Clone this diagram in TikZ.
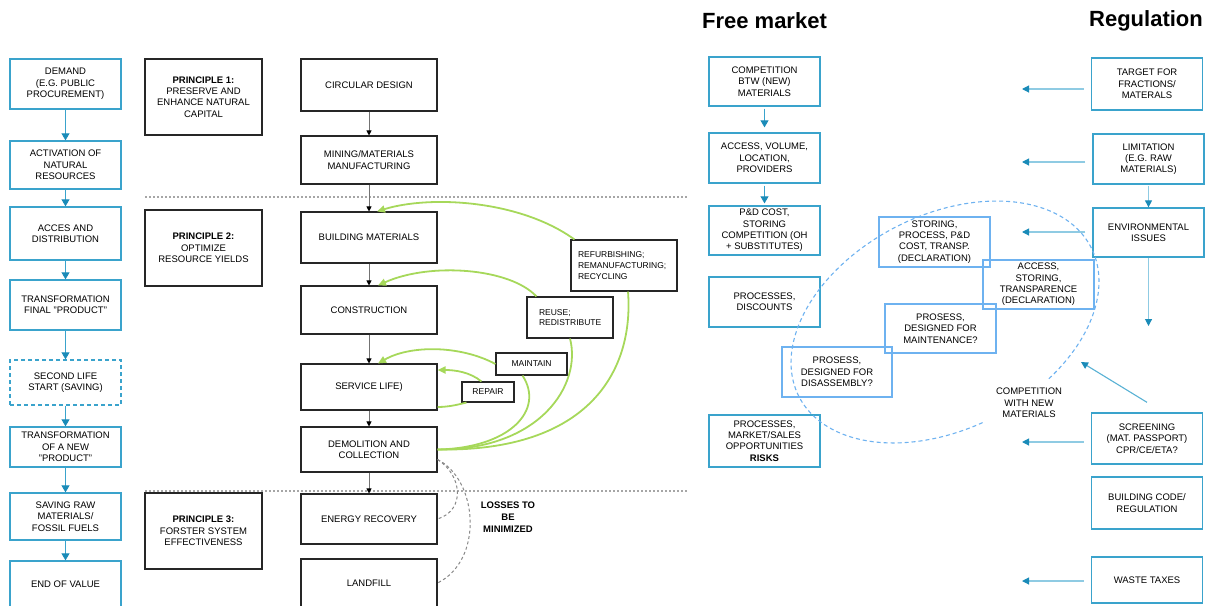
\documentclass[tikz,border=0pt]{standalone}
\usepackage{fontspec}
\setmainfont{Liberation Sans}
\usetikzlibrary{arrows.meta}
\definecolor{myblue}{RGB}{58,163,204}
\definecolor{mydarkblue}{RGB}{26,139,184}
\definecolor{mypaleblue}{RGB}{143,203,227}
\definecolor{mylightblue}{RGB}{110,178,240}
\definecolor{mygreen}{RGB}{166,216,90}
\definecolor{mygray}{RGB}{136,136,136}

\begin{document}
\begin{tikzpicture}[
  x=1pt,
  y=-1pt,
  font=\fontsize{9.5}{11.3}\selectfont,
  mybluebox/.style={
    draw=myblue,
    line width=1.3pt,
    align=center,
    inner sep=1pt,
    minimum width=111pt,
    minimum height=#1pt
    },
  mylightbox/.style={
    draw=mylightblue,
    line width=1.2pt,
    align=center,
    inner sep=1pt,
    minimum width=111pt,
    minimum height=#1pt
    },
  myprinciple/.style={
    draw=black!85,
    line width=1.3pt,
    align=center,
    minimum width=117pt,
    minimum height=76pt
    },
  mystage/.style={
    draw=black!85,
    line width=1.1pt,
    align=center,
    inner sep=1pt,
    minimum width=136pt,
    minimum height=#1pt
    },
  mylabel/.style 2 args={
    draw=black!85,
    line width=1.1pt,
    font=\fontsize{8.5}{10.8}\selectfont,
    inner sep=1pt,
    minimum width=#1pt,
    minimum height=#2pt
    },
  myarrow/.style={
    draw=myblue,
    line width=0.9pt,
    -{Triangle[length=7pt,width=8pt,color=mydarkblue]}
    },
  mystagearrow/.style={
    draw=black!55,
    line width=0.8pt,
    -{Triangle[length=5pt,width=5pt,color=black]}
    },
  mygreenline/.style={
    draw=mygreen,
    line width=1.8pt
    },
  mygreenarrow/.style={
    mygreenline,
    -{Triangle[length=8pt,width=7pt]}
    },
  mylossline/.style={
    draw=mygray,
    line width=1pt,
    dash pattern=on 3pt off 2.5pt
    },
  myregarrow/.style={
    draw=mypaleblue,
    line width=1.1pt,
    -{Triangle[length=7pt,width=7pt,color=mydarkblue]}
    },
  myseparator/.style={
    draw=black!35,
    line width=1.2pt,
    dash pattern=on 2pt off 2pt
    }
]
\useasboundingbox (0,0) rectangle (1206,605);

\node[mybluebox=50] (demand) at (65.5,84) {DEMAND\\(E.G. PUBLIC\\PROCUREMENT)};
\node[mybluebox=48] (activation) at (65.5,165) {ACTIVATION OF\\NATURAL\\RESOURCES};
\node[mybluebox=53] (acces) at (65.5,233.5) {ACCES AND\\DISTRIBUTION};
\node[mybluebox=50] (transfinal) at (65.5,305) {TRANSFORMATION\\FINAL "PRODUCT"};
\node[mybluebox=45, dash pattern=on 4pt off 3pt] (secondlife) at (65.5,382.5) {SECOND LIFE\\START (SAVING)};
\node[mybluebox=40] (transnew) at (65.5,447) {TRANSFORMATION\\OF A NEW\\"PRODUCT"};
\node[mybluebox=47] (saving) at (65.5,516.5) {SAVING RAW\\MATERIALS/\\FOSSIL FUELS};
\node[mybluebox=46] (endvalue) at (65.5,584) {END OF VALUE};
\foreach \a/\b in {demand/activation, activation/acces, acces/transfinal, transfinal/secondlife, secondlife/transnew, transnew/saving, saving/endvalue}
  \draw[myarrow] (\a) -- (\b);

\node[myprinciple] (principle1) at (203.5,97) {\textbf{PRINCIPLE 1:}\\PRESERVE AND\\ENHANCE NATURAL\\CAPITAL};
\node[myprinciple] (principle2) at (203.5,248) {\textbf{PRINCIPLE 2:}\\OPTIMIZE\\RESOURCE YIELDS};
\node[myprinciple] (principle3) at (203.5,531) {\textbf{PRINCIPLE 3:}\\FORSTER SYSTEM\\EFFECTIVENESS};

\draw[myseparator] (145,197) -- (688,197);
\draw[myseparator] (145,491) -- (688,491);

\node[mystage=52] (circular) at (369,85) {CIRCULAR DESIGN};
\node[mystage=48] (mining) at (369,160) {MINING/MATERIALS\\MANUFACTURING};
\node[mystage=51] (building) at (369,237.5) {BUILDING MATERIALS};
\node[mystage=48] (construction) at (369,310) {CONSTRUCTION};
\node[mystage=46] (service) at (369,387) {SERVICE LIFE)};
\node[mystage=45] (demolition) at (369,449.5) {DEMOLITION AND\\COLLECTION};
\node[mystage=50] (energy) at (369,519) {ENERGY RECOVERY};
\node[mystage=48] (landfill) at (369,583) {LANDFILL};
\foreach \a/\b in {circular/mining, mining/building, building/construction, construction/service, service/demolition, demolition/energy}
  \draw[mystagearrow] (\a) -- (\b);

\node[mylabel={106}{51}, text width=92pt, align=left] (refurb) at (624,265.5) {REFURBISHING;\\REMANUFACTURING;\\RECYCLING};
\node[mylabel={86}{41}, text width=62pt, align=left] (reuse) at (570,317.5) {REUSE;\\REDISTRIBUTE};
\node[mylabel={71}{22}] (maintain) at (531.5,364) {MAINTAIN};
\node[mylabel={52}{20}] (repair) at (488,392) {REPAIR};

\draw[mygreenline] (demolition.east) .. controls (590,452) and (634,370) .. ([xshift=4pt]refurb.south);
\draw[mygreenarrow] ([xshift=4pt]refurb.north west) .. controls (520,200) and (430,195) .. ([xshift=8pt]building.north);
\draw[mygreenline] (demolition.east) .. controls (540,450) and (582,385) .. (reuse.south);
\draw[mygreenarrow] ([xshift=10pt]reuse.north west) .. controls (510,268) and (430,262) .. ([xshift=9pt]construction.north);
\draw[mygreenline] (demolition.east) .. controls (510,448) and (545,410) .. ([xshift=-9pt]maintain.south);
\draw[mygreenarrow] (maintain.west) .. controls (460,345) and (410,345) .. ([xshift=9pt]service.north);
\draw[mygreenline] ([yshift=-20pt]service.east) .. controls (450,407) and (460,404) .. ([xshift=5pt]repair.south west);
\draw[mygreenarrow] ([xshift=20pt]repair.north west) .. controls (470,372) and (455,370) .. ([yshift=17pt]service.east);

\draw[mylossline] ([yshift=-10pt]demolition.east) .. controls (462,475) and (466,510) .. (energy.east);
\draw[mylossline] ([yshift=-10pt]demolition.east) .. controls (478,480) and (484,560) .. (landfill.east);
\node[font=\bfseries\fontsize{9.5}{11.7}\selectfont, align=center] (losses) at (508,517) {LOSSES TO\\BE\\MINIMIZED};

\node[font=\bfseries\fontsize{22}{26}\selectfont] (freemarket) at (764.5,21) {Free market};
\node[font=\bfseries\fontsize{22}{26}\selectfont] (regulation) at (1146,21) {Regulation};

\node[mybluebox=49] (competition) at (764.5,81.5) {COMPETITION\\BTW (NEW)\\MATERIALS};
\node[mybluebox=50] (access) at (764.5,158) {ACCESS, VOLUME,\\LOCATION,\\PROVIDERS};
\node[mybluebox=49] (pdcost) at (764.5,230.5) {P\&D COST,\\STORING\\COMPETITION (OH\\+ SUBSTITUTES)};
\node[mybluebox=50] (discounts) at (764.5,302) {PROCESSES,\\DISCOUNTS};
\node[mybluebox=52] (market) at (764.5,441) {PROCESSES,\\MARKET/SALES\\OPPORTUNITIES\\\textbf{RISKS}};
\draw[myarrow, shorten <=2pt, shorten >=5pt] (competition) -- (access);
\draw[myarrow, shorten <=2pt, shorten >=2pt] (access) -- (pdcost);

\node[mybluebox=52] (target) at (1147,84) {TARGET FOR\\FRACTIONS/\\MATERALS};
\node[mybluebox=50] (limitation) at (1148.5,159) {LIMITATION\\(E.G. RAW\\MATERIALS)};
\node[mybluebox=49] (environ) at (1148.5,232.5) {ENVIRONMENTAL\\ISSUES};
\node[mybluebox=51] (screening) at (1147,438.5) {SCREENING\\(MAT. PASSPORT)\\CPR/CE/ETA?};
\node[mybluebox=52] (buildcode) at (1147,503) {BUILDING CODE/\\REGULATION};
\node[mybluebox=46] (waste) at (1147,580) {WASTE TAXES};

\foreach \src/\ypos in {target/89, limitation/162, environ/232, screening/442, waste/581}
  \coordinate (\src-end) at (1022,\ypos);
\foreach \src in {target, limitation, environ, screening, waste}
  \draw[myregarrow] ([xshift=-7pt]\src.west |- \src-end) -- (\src-end);
\coordinate (environ-down) at (1148.5,326);
\coordinate (screening-up) at (1081,362);
\draw[myregarrow, shorten <=1pt] (limitation) -- (environ);
\draw[myregarrow] (environ) -- (environ-down);
\draw[myregarrow, draw=myblue!85] ([yshift=10pt]screening.north) -- (screening-up);

\draw[draw=mylightblue, line width=1.1pt, dash pattern=on 4pt off 3pt] plot[domain=294:626, samples=120, smooth] ({945+164*cos(\x)*0.891-107*sin(\x)*0.454}, {322-164*cos(\x)*0.454-107*sin(\x)*0.891});

\node[mylightbox=50] (storing) at (934.5,242) {STORING,\\PROCESS, P\&D\\COST, TRANSP.\\(DECLARATION)};
\node[mylightbox=49] (transparence) at (1038.5,284.5) {ACCESS,\\STORING,\\TRANSPARENCE\\(DECLARATION)};
\node[mylightbox=49] (maintenance) at (940.5,328.5) {PROSESS,\\DESIGNED FOR\\MAINTENANCE?};
\node[mylightbox=50, minimum width=110pt] (disassembly) at (837,372) {PROSESS,\\DESIGNED FOR\\DISASSEMBLY?};

\node[align=center] (newmaterials) at (1029,403) {COMPETITION\\WITH NEW\\MATERIALS};
\end{tikzpicture}
\end{document}
